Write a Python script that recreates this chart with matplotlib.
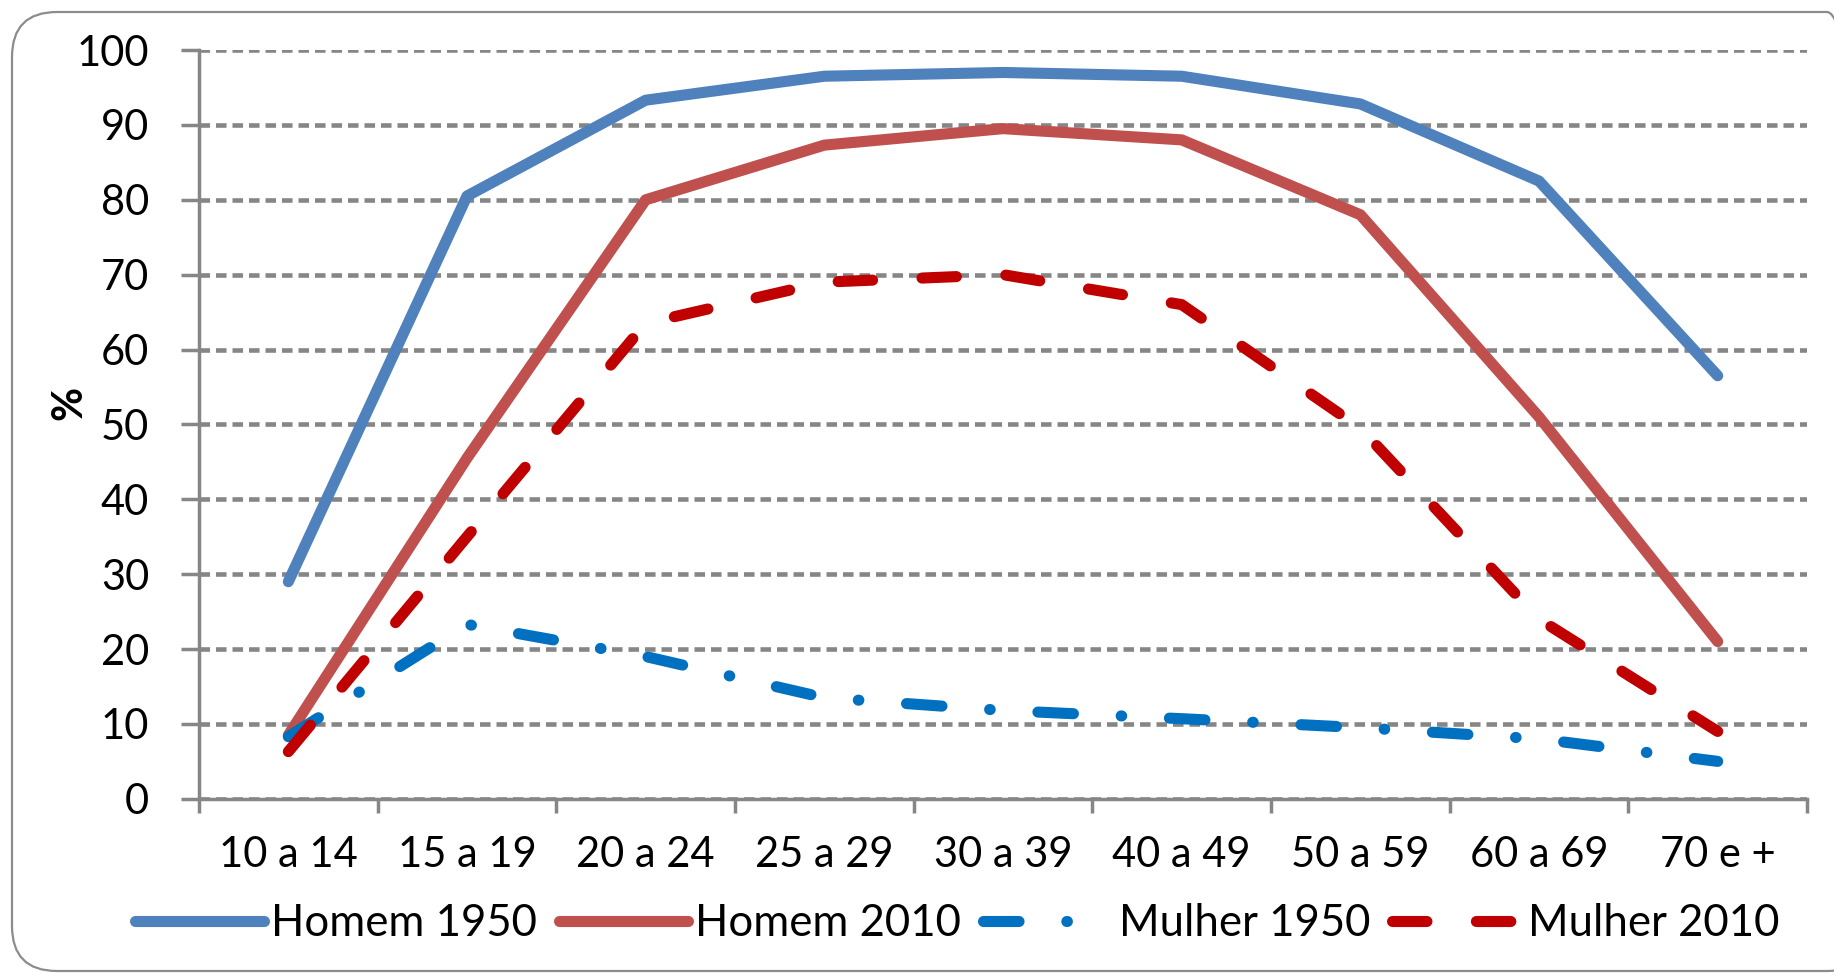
import matplotlib

matplotlib.use("Agg")
import matplotlib.pyplot as plt
from matplotlib.patches import FancyBboxPatch

AGE_GROUPS = ["10 a 14", "15 a 19", "20 a 24", "25 a 29", "30 a 39",
              "40 a 49", "50 a 59", "60 a 69", "70 e +"]
HOMEM_1950 = [29.0, 80.5, 93.3, 96.5, 97.0, 96.5, 92.8, 82.5, 56.5]
HOMEM_2010 = [8.5, 45.5, 80.0, 87.3, 89.5, 88.0, 78.0, 51.0, 21.0]
MULHER_1950 = [8.3, 23.3, 19.0, 13.5, 11.8, 10.7, 9.5, 8.0, 5.0]
MULHER_2010 = [6.3, 35.0, 63.5, 69.0, 70.0, 66.0, 49.5, 24.0, 9.0]
Y_TICKS = list(range(0, 101, 10))

_GRAY = "#868686"

plt.rcParams.update({
    "font.family": ["Lato", "DejaVu Sans"],
    "font.size": 30,
})

fig = plt.figure(figsize=(18.34, 9.75), dpi=100)
ax = fig.add_axes([0.1085, 0.1807, 0.8768, 0.768])

x = list(range(len(AGE_GROUPS)))
lw = 8
ax.plot(x, HOMEM_1950, color="#4F81BD", lw=lw, solid_capstyle="round",
        solid_joinstyle="round", label="Homem 1950")
ax.plot(x, HOMEM_2010, color="#C0504D", lw=lw, solid_capstyle="round",
        solid_joinstyle="round", label="Homem 2010")
ax.plot(x, MULHER_1950, color="#0070C0", lw=lw, dashes=[3.2, 4.3, 0.05, 4.3],
        dash_capstyle="round", label="Mulher 1950")
ax.plot(x, MULHER_2010, color="#C00000", lw=lw, dashes=[3.1, 4.45],
        dash_capstyle="round", label="Mulher 2010")

ax.set_xlim(-0.5, len(AGE_GROUPS) - 0.5)
ax.set_ylim(0, 100)
ax.set_yticks(Y_TICKS)
ax.set_xticks(x)
ax.set_xticklabels(AGE_GROUPS)
ax.set_xticks([i - 0.5 for i in range(len(AGE_GROUPS) + 1)], minor=True)
ax.tick_params(axis="x", which="major", length=0, pad=27)
ax.tick_params(axis="x", which="minor", length=10, width=2.5, color=_GRAY)
ax.tick_params(axis="y", length=13, width=2.5, color=_GRAY, pad=23)
ax.yaxis.grid(True, color=_GRAY, lw=3.3, linestyle=(0, (2.3, 1.3)))
ax.set_axisbelow(True)

for side in ("top", "right"):
    ax.spines[side].set_visible(False)
for side in ("left", "bottom"):
    ax.spines[side].set_color(_GRAY)
    ax.spines[side].set_linewidth(2.5)

ax.set_ylabel("%", fontweight="bold")
ax.yaxis.set_label_coords(-0.069, 0.529)

fig.legend(loc="center", bbox_to_anchor=(0.522, 0.053), ncol=4, frameon=False,
           handlelength=2.95, handletextpad=0.16, columnspacing=0.5, fontsize=31.5)

# rounded chart-area border (cut off at the right edge like the original)
fig.patches.append(FancyBboxPatch((0.12, 0.04), 18.6, 9.59,
                                  boxstyle="round,pad=0,rounding_size=0.45",
                                  transform=fig.dpi_scale_trans, fill=False,
                                  edgecolor="#8C8C8C", lw=1.6))

fig.savefig("out.png", dpi=100)
